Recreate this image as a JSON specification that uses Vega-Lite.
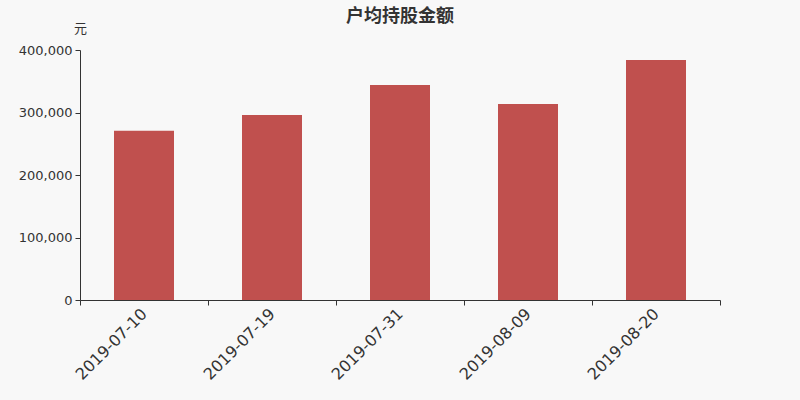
{
  "$schema": "https://vega.github.io/schema/vega-lite/v6.json",
  "autosize": {"type": "none"},
  "padding": {"left": 80, "top": 50, "right": 80, "bottom": 100},
  "width": 640,
  "height": 250,
  "background": "#f8f8f8",
  "title": {
    "text": "户均持股金额",
    "font": "Noto Sans CJK SC",
    "fontSize": 18,
    "fontWeight": "bold",
    "color": "#333333",
    "anchor": "middle",
    "offset": -4
  },
  "config": {"view": {"stroke": null}},
  "data": {
    "values": [
      {"date": "2019-07-10", "value": 271000},
      {"date": "2019-07-19", "value": 296000},
      {"date": "2019-07-31", "value": 344000},
      {"date": "2019-08-09", "value": 313600},
      {"date": "2019-08-20", "value": 384000}
    ]
  },
  "mark": {"type": "bar", "color": "#c0504e", "width": {"band": 0.46875}},
  "encoding": {
    "x": {
      "field": "date",
      "type": "nominal",
      "sort": null,
      "scale": {"paddingInner": 0, "paddingOuter": 0},
      "axis": {
        "title": null,
        "labelAngle": -45,
        "labelAlign": "right",
        "labelBaseline": "middle",
        "labelFont": "DejaVu Sans",
        "labelFontSize": 16,
        "labelColor": "#333333",
        "labelPadding": 6,
        "tickBand": "extent",
        "tickSize": 5,
        "tickColor": "#333333",
        "domainColor": "#333333"
      }
    },
    "y": {
      "field": "value",
      "type": "quantitative",
      "scale": {"domain": [0, 400000]},
      "axis": {
        "title": "元",
        "titleAngle": 0,
        "titleX": 0,
        "titleY": -22,
        "titleAlign": "center",
        "titleBaseline": "middle",
        "titleFont": "Noto Sans CJK SC",
        "titleFontSize": 13,
        "titleFontWeight": "normal",
        "titleColor": "#333333",
        "values": [0, 100000, 200000, 300000, 400000],
        "format": ",d",
        "grid": false,
        "labelFont": "DejaVu Sans",
        "labelFontSize": 13,
        "labelColor": "#333333",
        "labelPadding": 3,
        "tickSize": 5,
        "tickColor": "#333333",
        "domainColor": "#333333"
      }
    }
  }
}
